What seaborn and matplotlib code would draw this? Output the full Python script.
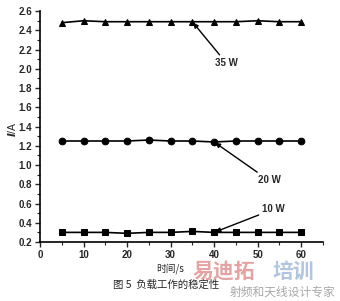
import matplotlib
matplotlib.use("Agg")
import matplotlib.pyplot as plt
import seaborn as sns
import pandas as pd
from matplotlib.ticker import MultipleLocator, FormatStrFormatter

sns.set_theme(style="ticks")
plt.rcParams['font.family'] = ['Liberation Sans', 'Noto Sans CJK SC', 'DejaVu Sans']
plt.rcParams['font.weight'] = 'bold'

time_s = [5, 10, 15, 20, 25, 30, 35, 40, 45, 50, 55, 60]
i_35w = [2.48, 2.50, 2.49, 2.49, 2.49, 2.49, 2.49, 2.49, 2.49, 2.50, 2.49, 2.49]
i_20w = [1.25, 1.25, 1.25, 1.25, 1.26, 1.25, 1.25, 1.24, 1.25, 1.25, 1.25, 1.25]
i_10w = [0.30, 0.30, 0.30, 0.29, 0.30, 0.30, 0.31, 0.30, 0.30, 0.30, 0.30, 0.30]
series_labels = ["35 W", "20 W", "10 W"]
markers = ["^", "o", "s"]

fig = plt.figure(figsize=(3.4, 3.01), dpi=100)
ax = fig.add_axes([0.1176, 0.196, 0.832, 0.767])

for vals, m in zip([i_35w, i_20w, i_10w], markers):
    df = pd.DataFrame({"t": time_s, "I": vals})
    sns.lineplot(data=df, x="t", y="I", ax=ax, color="black", marker=m,
                 markersize=4.8, markeredgecolor="black", linewidth=1.2)

ax.set_xticks([0, 10, 20, 30, 40, 50, 60])
ax.xaxis.set_minor_locator(MultipleLocator(5))
ax.yaxis.set_major_locator(MultipleLocator(0.2))
ax.yaxis.set_minor_locator(MultipleLocator(0.1))
ax.set_xlim(0, 65)
ax.set_ylim(0.2, 2.6)
ax.yaxis.set_major_formatter(FormatStrFormatter('%.1f'))
ax.tick_params(which='major', length=3.5, width=1, labelsize=7, pad=2, direction='out')
ax.tick_params(which='minor', length=2, width=0.8, direction='out')
for s in ['top', 'right']:
    ax.spines[s].set_visible(False)
for s in ['left', 'bottom']:
    ax.spines[s].set_linewidth(1.2)
    ax.spines[s].set_color('black')

ax.set_xlabel("")
ax.set_ylabel("")

arrow = dict(arrowstyle='-|>', color='black', lw=1.0, mutation_scale=7, shrinkA=0, shrinkB=1)
ax.annotate(series_labels[0], xy=(35, i_35w[6]), xytext=(40.2, 2.06), fontsize=7,
            fontweight='bold', arrowprops=arrow, ha='left', va='center')
ax.annotate(series_labels[1], xy=(40, i_20w[7]), xytext=(50.0, 0.84), fontsize=7,
            fontweight='bold', arrowprops=arrow, ha='left', va='center')
ax.annotate(series_labels[2], xy=(40, i_10w[7]), xytext=(51.0, 0.54), fontsize=7,
            fontweight='bold', arrowprops=arrow, ha='left', va='center')

fig.text(0.035, 0.57, "$I$/A", rotation=90, fontsize=7.5, ha='center', va='center',
         fontweight='normal')
fig.text(0.50, 0.108, "时间/s", fontsize=7, ha='center', va='center', fontweight='normal',
         family=['Noto Sans CJK SC', 'DejaVu Sans'])
fig.text(0.49, 0.053, "图 5  负载工作的稳定性", fontsize=7.5, ha='center', va='center',
         fontweight='normal', family=['Noto Sans CJK SC', 'DejaVu Sans'])

# watermark
fig.text(0.565, 0.098, "易迪拓", fontsize=15, fontweight='bold', color='#e08a8a',
         alpha=0.8, ha='left', va='center', family=['Noto Sans CJK SC'])
fig.text(0.80, 0.098, "培训", fontsize=15, fontweight='bold', color='#9fb7d6',
         alpha=0.8, ha='left', va='center', family=['Noto Sans CJK SC'])
fig.text(0.985, 0.028, "射频和天线设计专家", fontsize=8.5, color='#a8a8a8',
         fontweight='normal', ha='right', va='center', family=['Noto Sans CJK SC'])

fig.savefig("out.png", dpi=100)
